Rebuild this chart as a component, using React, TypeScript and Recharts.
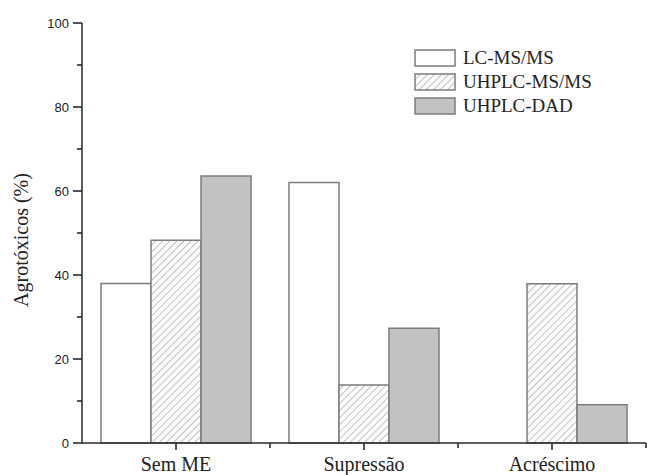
import React from 'react';
import { BarChart, Bar, XAxis, YAxis } from 'recharts';

// categories and the three methods
const categories = ['Sem ME', 'Supressão', 'Acréscimo'];
const lcMsMs = [38, 62, 0];
const uhplcMsMs = [48.3, 13.8, 37.9];
const uhplcDad = [63.6, 27.3, 9.1];
const yTicks = [0, 10, 20, 30, 40, 50, 60, 70, 80, 90, 100];

const seriesNames = ['LC-MS/MS', 'UHPLC-MS/MS', 'UHPLC-DAD'];

const data = categories.map((c, i) => ({
  name: c,
  lc: lcMsMs[i],
  uhMs: uhplcMsMs[i],
  dad: uhplcDad[i],
}));

const SERIF = '"Liberation Serif", "Times New Roman", serif';
const SANS = '"Liberation Sans", Arial, sans-serif';
const AXIS = '#2a2a2a';
const EDGE = '#7c7c7c';
const GRAY = '#c2c2c2';

const W = 647;
const H = 475;
const MARGIN = { top: 23, right: 1, left: 0, bottom: 0 };
const Y_WIDTH = 82;
const X_HEIGHT = 32;
const PLOT_LEFT = MARGIN.left + Y_WIDTH;
const PLOT_BOTTOM = H - MARGIN.bottom - X_HEIGHT;
const BAND = (W - MARGIN.right - PLOT_LEFT) / categories.length;

const renderYTick = (props: any) => {
  const { y, payload } = props;
  const axisX = PLOT_LEFT;
  const major = payload.value % 20 === 0;
  return (
    <g key={`yt-${payload.value}`}>
      <path d={`M${axisX - (major ? 9 : 5)},${y}H${axisX}`} stroke={AXIS} strokeWidth={1.6} fill="none" />
      {major && (
        <text x={axisX - 13} y={y} dy="0.35em" textAnchor="end" fontFamily={SANS} fontSize={13} fill="#222">
          {payload.value}
        </text>
      )}
    </g>
  );
};

const renderXTick = (props: any) => {
  const { x, payload } = props;
  const axisY = PLOT_BOTTOM;
  const half = BAND / 2;
  return (
    <g key={`xt-${payload.value}`}>
      <path d={`M${x},${axisY}V${axisY + 7}`} stroke={AXIS} strokeWidth={1.6} fill="none" />
      <path d={`M${x + half},${axisY}V${axisY + 5}`} stroke={AXIS} strokeWidth={1.6} fill="none" />
      <text x={x} y={axisY + 14} dy="0.71em" textAnchor="middle" fontFamily={SERIF} fontSize={20} fill="#222">
        {payload.value}
      </text>
    </g>
  );
};

const renderYLabel = (props: any) => {
  const vb = props.viewBox || { x: 0, y: 23, width: 82, height: 420 };
  const cx = vb.x + 21;
  const cy = vb.y + vb.height / 2 + 7;
  return (
    <text
      x={cx}
      y={cy}
      transform={`rotate(-90, ${cx}, ${cy})`}
      textAnchor="middle"
      dominantBaseline="central"
      fontFamily={SERIF}
      fontSize={20}
      fill="#222"
    >
      Agrotóxicos (%)
    </text>
  );
};

const Swatch = ({ kind }: { kind: number }) => (
  <svg width={42} height={18} style={{ display: 'block' }}>
    <defs>
      <pattern id={`lg-hatch-${kind}`} width={5} height={5} patternUnits="userSpaceOnUse" patternTransform="rotate(45)">
        <rect width={5} height={5} fill="#fff" />
        <line x1={0} y1={0} x2={0} y2={5} stroke="#a3a3a3" strokeWidth={1.4} />
      </pattern>
    </defs>
    <rect
      x={1}
      y={1}
      width={40}
      height={16}
      fill={kind === 0 ? '#fff' : kind === 1 ? `url(#lg-hatch-${kind})` : GRAY}
      stroke={EDGE}
      strokeWidth={1.5}
    />
  </svg>
);

export default function App() {
  return (
    <div style={{ position: 'absolute', left: 0, top: 0, width: W, height: H, background: '#fff' }}>
      <BarChart width={W} height={H} data={data} margin={MARGIN} barGap={0} barCategoryGap={19}>
        <defs>
          <pattern id="hatch" width={5} height={5} patternUnits="userSpaceOnUse" patternTransform="rotate(45)">
            <rect width={5} height={5} fill="#fff" />
            <line x1={0} y1={0} x2={0} y2={5} stroke="#a3a3a3" strokeWidth={1.4} />
          </pattern>
        </defs>
        <XAxis
          dataKey="name"
          height={X_HEIGHT}
          tickLine={false}
          axisLine={{ stroke: AXIS, strokeWidth: 1.5 }}
          tick={renderXTick}
          interval={0}
        />
        <YAxis
          width={Y_WIDTH}
          domain={[0, 100]}
          ticks={yTicks}
          interval={0}
          tickLine={false}
          axisLine={{ stroke: AXIS, strokeWidth: 1.5 }}
          tick={renderYTick}
          label={renderYLabel}
        />
        <Bar dataKey="lc" name={seriesNames[0]} fill="#fff" stroke={EDGE} strokeWidth={1.5} isAnimationActive={false} />
        <Bar dataKey="uhMs" name={seriesNames[1]} fill="url(#hatch)" stroke={EDGE} strokeWidth={1.5} isAnimationActive={false} />
        <Bar dataKey="dad" name={seriesNames[2]} fill={GRAY} stroke={EDGE} strokeWidth={1.5} isAnimationActive={false} />
      </BarChart>
      <div style={{ position: 'absolute', left: 414, top: 46 }}>
        {seriesNames.map((n, i) => (
          <div key={n} style={{ display: 'flex', alignItems: 'center', height: 24 }}>
            <Swatch kind={i} />
            <span style={{ fontFamily: SERIF, fontSize: 19, color: '#222', marginLeft: 7, lineHeight: '24px' }}>{n}</span>
          </div>
        ))}
      </div>
    </div>
  );
}
